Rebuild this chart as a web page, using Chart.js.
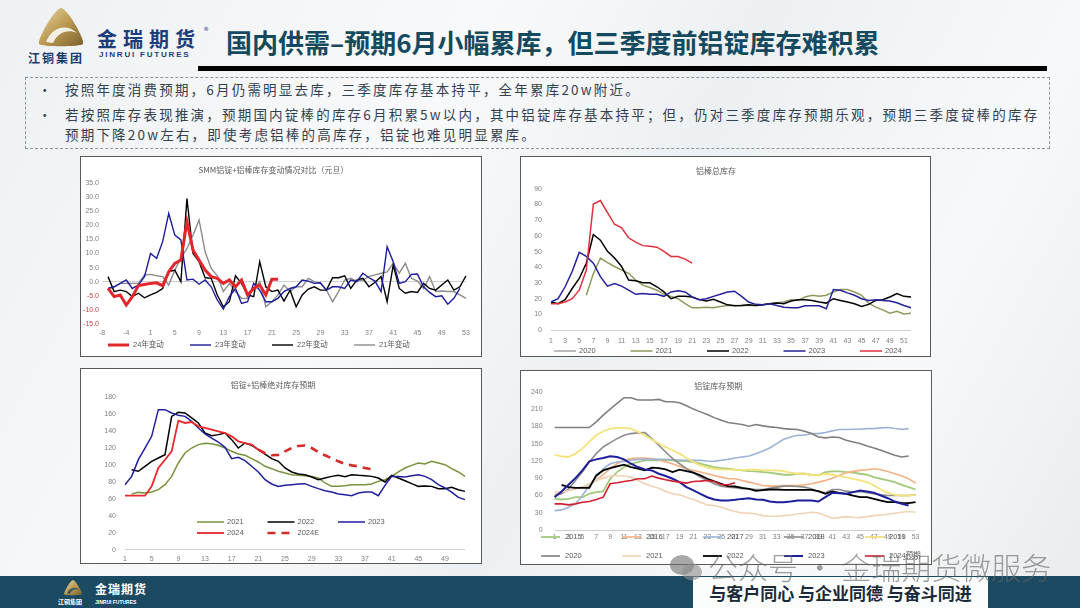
<!DOCTYPE html>
<html>
<head>
<meta charset="utf-8">
<script src="https://cdn.jsdelivr.net/npm/chart.js"></script>
<style>
  body { margin: 0; width: 1080px; height: 608px; overflow: hidden; position: relative;
         background: linear-gradient(118deg, #eef1f3 0%, #f8f9fa 35%, #edf0f2 55%, #f7f8f9 78%, #e9ecee 100%);
         font-family: 'Noto Sans CJK SC', sans-serif; }
  .abs { position: absolute; }
  .box { position: absolute; background: #fff; border: 1px solid #5a5a5a; box-sizing: border-box; }
  .box canvas { position: absolute; left: 0; top: 0; }
  .txt { font-size: 13.5px; letter-spacing: 2.2px; line-height: 20px; color: #34414e; white-space: nowrap; }
</style>
</head>
<body>

<!-- header -->
<svg class="abs" style="left:36px;top:7px" width="50" height="40" viewBox="0 0 50 40">
  <defs>
    <linearGradient id="gold" x1="0" y1="0" x2="1" y2="1">
      <stop offset="0" stop-color="#eadbab"/><stop offset="0.5" stop-color="#bb9a52"/><stop offset="1" stop-color="#7b602c"/>
    </linearGradient>
  </defs>
  <path d="M25 1 C31 1 49 32 47 37 C45 40 5 40 3 37 C1 32 19 1 25 1 Z" fill="url(#gold)"/>
  <path d="M10 35 C16 20 30 16 41 26 C32 22 22 25 17 36 Z" fill="#fff" opacity="0.85"/>
</svg>
<div class="abs" style="left:28px;top:49px;font-size:12px;font-weight:700;letter-spacing:2px;color:#1a3a6e">江铜集团</div>
<div class="abs" style="left:97px;top:27px;font-size:20px;line-height:24px;font-weight:700;letter-spacing:6px;color:#1b3d7a">金瑞期货</div>
<div class="abs" style="left:204px;top:26px;font-size:9px;line-height:10px;color:#1b3d7a">®</div>
<div class="abs" style="left:99px;top:50px;font-family:'Liberation Sans',sans-serif;font-size:8px;font-weight:700;letter-spacing:1.8px;color:#1b3d7a">JINRUI FUTURES</div>
<div class="abs" style="left:226px;top:24px;font-size:26px;line-height:36px;font-weight:700;color:#154a5e;white-space:nowrap">国内供需–预期6月小幅累库，但三季度前铝锭库存难积累</div>
<div class="abs" style="left:198px;top:66px;width:849px;height:4.5px;background:#000"></div>

<!-- text box -->
<div class="abs" style="left:25px;top:77px;width:1025px;height:72px;border:1px dashed #8c98a2;box-sizing:border-box"></div>
<div class="abs txt" style="left:38px;top:79px">•</div>
<div class="abs txt" style="left:65px;top:79px">按照年度消费预期，6月仍需明显去库，三季度库存基本持平，全年累库20w附近。</div>
<div class="abs txt" style="left:38px;top:104px">•</div>
<div class="abs txt" style="left:65px;top:104px">若按照库存表现推演，预期国内锭棒的库存6月积累5w以内，其中铝锭库存基本持平；但，仍对三季度库存预期乐观，预期三季度锭棒的库存<br>预期下降20w左右，即使考虑铝棒的高库存，铝锭也难见明显累库。</div>

<!-- charts -->
<div class="box" style="left:80px;top:156px;width:402px;height:201px"><canvas id="c1" width="400" height="199"></canvas></div>
<div class="box" style="left:520px;top:156px;width:411px;height:201px"><canvas id="c2" width="409" height="199"></canvas></div>
<div class="box" style="left:80px;top:368px;width:402px;height:196px"><canvas id="c3" width="400" height="194"></canvas></div>
<div class="box" style="left:520px;top:370px;width:412px;height:195px"><canvas id="c4" width="410" height="193"></canvas></div>

<!-- footer -->
<div class="abs" style="left:0;top:576px;width:1080px;height:32px;background:#1d4a63"></div>
<div class="abs" style="left:693px;top:577px;width:295px;height:31px;background:#fbfcfc"></div>
<div class="abs" style="left:693px;top:577px;width:295px;height:31px;line-height:31px;text-align:center;font-size:17px;font-weight:700;color:#1a2a38;white-space:nowrap">与客户同心 与企业同德 与奋斗同进</div>
<svg class="abs" style="left:63px;top:579px" width="20" height="17" viewBox="0 0 50 40">
  <path d="M25 1 C31 1 49 32 47 37 C45 40 5 40 3 37 C1 32 19 1 25 1 Z" fill="url(#gold)"/>
  <path d="M10 35 C16 20 30 16 41 26 C32 22 22 25 17 36 Z" fill="#1d4a63" opacity="0.8"/>
</svg>
<div class="abs" style="left:95px;top:582px;font-size:12px;line-height:14px;font-weight:700;letter-spacing:1px;color:#fff">金瑞期货</div>
<div class="abs" style="left:58px;top:598px;font-size:6px;line-height:8px;font-weight:700;color:#fff">江铜集团</div>
<div class="abs" style="left:95px;top:598px;font-family:'Liberation Sans',sans-serif;font-size:5px;line-height:8px;font-weight:700;color:#fff">JINRUI FUTURES</div>

<!-- watermark -->
<svg class="abs" style="left:668px;top:553px" width="36" height="30" viewBox="0 0 36 30">
  <ellipse cx="14" cy="12" rx="12" ry="10" fill="rgba(110,110,110,0.6)"/>
  <ellipse cx="24" cy="19" rx="10" ry="8.5" fill="rgba(140,140,140,0.6)"/>
</svg>
<div class="abs" style="left:708px;top:546px;font-size:30px;line-height:40px;font-weight:300;color:rgba(100,100,100,0.62);white-space:nowrap">公众号 · 金瑞期货微服务</div>

<script>
Chart.defaults.font.family = "'Liberation Sans', 'Noto Sans CJK SC', sans-serif";
Chart.defaults.font.size = 7;
Chart.defaults.color = '#7f7f7f';

// ---------- chart 1: SMM铝锭+铝棒库存变动 (weeks around 元旦) ----------
const weeks1 = [-8, -7, -6, -5, -4, -3, -2, -1, 1, 2, 3, 4, 5, 6, 7, 8, 9, 10, 11, 12, 13, 14, 15, 16, 17, 18, 19, 20,
  21, 22, 23, 24, 25, 26, 27, 28, 29, 30, 31, 32, 33, 34, 35, 36, 37, 38, 39, 40, 41, 42, 43, 44, 45, 46, 47, 48, 49,
  50, 51, 52, 53];
const chg24 = [null, -2.4, -5.3, -4.7, -8.3, -5.3, -1.4, -1.0, -0.6, -0.4, -1.4, 3.5, 6.5, 7.7, 21.3, 11.2, 7.7, 4.1,
  1.8, 1.2, -0.6, 0.6, -1.8, 0.6, -4.7, -2.4, -1.2, -4.7, 0.9, 0.9];
const chg23 = [null, -2.4, -1.8, -0.6, 0.6, -2.4, -1.2, 1.8, 10.0, 8.3, 14.2, 24.2, 16.5, 14.8, 0.6, 0.9, -0.9, 0.6,
  -1.8, -6.5, -9.7, -5.3, -2.4, -7.7, -7.1, -0.6, -3.0, -7.1, -7.1, -5.9, -3.5, -2.4, -1.8, 0.6, 0.2, -0.6, -0.4,
  -3.0, -1.8, -1.8, -2.4, 0.6, 0.0, 3.0, 1.4, 0.2, -3.5, 12.4, 7.1, -0.6, 0.0, 2.6, 2.7, -1.8, -3.8, -5.3, -5.0,
  -8.0, -5.9, -2.4];
const chg22 = [null, 1.8, -3.5, -3.0, -3.5, -5.3, -4.1, -5.7, -4.7, -3.8, -2.4, 3.5, 4.1, 0.0, 29.5, 10.0, 7.1, 1.4,
  1.2, -4.7, -8.9, -7.1, 2.1, -0.6, -4.7, -5.3, 7.1, -1.8, -3.5, -3.0, -6.9, -3.0, -8.9, -4.7, -2.6, -1.8, -3.0,
  -3.0, 1.4, 1.4, 2.1, -2.4, 0.6, 1.2, -1.8, -0.2, 1.8, -7.1, 5.9, -2.4, -4.1, -3.5, -3.8, -0.6, -2.4, -3.0, -1.2,
  0.6, -3.0, -1.8, 2.1];
const chg21 = [null, -2.4, -1.8, -0.6, -0.6, -0.6, -0.6, 2.4, 2.6, 2.1, 1.8, -1.2, 4.1, 8.3, 11.8, 16.5, 21.9, 10.6,
  4.7, 2.1, -3.5, -0.6, -3.5, -5.9, -5.9, -2.4, 0.0, -8.9, -7.1, -4.7, -1.2, -3.5, -1.8, -1.8, 1.2, 0.0, -0.6, -3.0,
  -7.1, -3.5, 0.6, 1.2, 0.2, 0.6, 1.8, 2.4, 3.0, 3.5, 6.5, 3.0, 6.5, 1.2, 0.2, -2.4, 1.8, -3.5, -3.3, -3.5, -3.5,
  -4.7, -5.9];

// ---------- chart 2: 铝棒总库存 ----------
const weeks2 = Array.from({ length: 52 }, (_, i) => i + 1);
const bar20 = [];
const bar21 = [null, null, null, null, null, 22.2, 36, 45.9, 43, 40.5, 38.3, 36.2, 31.9, 28.6, 27.1, 25.4, 22.8, 21.5,
  20, 16.8, 14.2, 14.2, 14.6, 14.2, 15.1, 15.7, 15.7, 15.7, 15.7, 15.7, 16.1, 16.8, 17.4, 17.9, 19.4, 18.9, 21.1,
  22.2, 21.5, 22.2, 24.3, 25.8, 25.8, 24.3, 22.2, 17.2, 14.6, 12.9, 10.8, 12, 10.3, 10.8];
const bar22 = [17.9, 16.8, 19.4, 26.5, 32.9, 42.6, 60.9, 57.3, 50.2, 45.9, 40.5, 31.9, 31.4, 30.1, 30.1, 27.6, 24.3,
  20, 21.5, 21.5, 21.1, 19.4, 18.5, 19.6, 17.9, 16.1, 15.5, 15.7, 16.1, 15.7, 16.1, 16.8, 17.2, 16.8, 18.5, 19.4,
  19.4, 18.9, 17.9, 17.2, 20, 18.9, 17.9, 16.8, 15.1, 16.4, 18.9, 19.4, 21.1, 23.3, 21.5, 21.1];
const bar23 = [17.9, 20, 27.6, 37.3, 49.5, 46.9, 42.6, 34, 28, 29.7, 28, 25.4, 22.8, 23.3, 22.8, 22.8, 21.5, 24.3, 25,
  24.3, 21.1, 19.4, 20, 21.5, 22.8, 24.3, 24.8, 21.5, 17.9, 16.4, 16.1, 16.8, 15.7, 14.6, 14.2, 14.2, 15.5, 15.5,
  15.5, 13.6, 25.8, 25.4, 23.7, 22.2, 20, 18.9, 19.4, 18.9, 18.5, 17.4, 15.7, 14.2];
const bar24 = [16.8, 16.8, 17.9, 20, 25.4, 38.3, 80.3, 82.5, 74.9, 67.4, 65.2, 58.8, 56, 53.8, 53.4, 52.8, 50.2, 46.9,
  46.9, 45.2, 42.6];

// ---------- chart 3: 铝锭+铝棒绝对库存预期 ----------
const weeks3 = Array.from({ length: 52 }, (_, i) => i + 1);
const abs21 = [null, 65.8, 67.7, 67, 68.1, 70.9, 76.8, 86.6, 102.4, 114.2, 120.1, 124.1, 125.6, 125.2, 123.3, 120.1,
  116.2, 113, 111.5, 107.5, 103.6, 98.5, 95.7, 92.6, 90.6, 88.6, 87.8, 87.4, 86.6, 84.7, 78.8, 74.8, 74.8, 75.6, 76.8,
  76.8, 76.8, 77.6, 80.7, 82.7, 86.6, 91.8, 96.5, 99.6, 102.4, 101.2, 104.4, 102.4, 100.4, 95.7, 91.8, 86.6];
const abs22 = [null, 94.5, 92.6, 98.5, 104.4, 108.3, 112.2, 157.5, 162.3, 161.5, 155.6, 149.7, 137.8, 134.7, 135.9,
  137.8, 130, 120.1, 126, 123.3, 118.2, 113, 107.5, 104.4, 96.5, 91.8, 89.4, 88.6, 85.9, 82.7, 84.7, 86.6, 87.8, 86.3,
  88.6, 87.8, 87.4, 86.6, 84.7, 80, 87.8, 84.7, 81.5, 78, 74.8, 75.2, 74.8, 72.1, 72.1, 73.6, 70.9, 68.9];
const abs23 = [76.8, 86.6, 106.3, 120.1, 133.9, 165.4, 165.4, 161.5, 158.7, 157.5, 151.6, 143.8, 136.7, 131.9, 127.2,
  120.9, 107.5, 109.1, 105.2, 98.5, 91.8, 82.7, 77.6, 74.8, 76, 76.8, 77.6, 78, 74.8, 72.1, 69.7, 68.1, 65.8, 65,
  63.8, 67, 68.1, 68.1, 63.8, 76, 86.6, 86.6, 85.9, 87.4, 88.6, 86.6, 82.7, 76.8, 72.9, 68.1, 61.8, 59.1];
const abs24 = [63.8, 63.8, 63.8, 63.8, 74.8, 96.5, 106.3, 116.2, 152.4, 149.7, 150.8, 145.7, 143.8, 141.8, 139.8,
  137.8, 133.9, 128, 126, 124.1, 118.2];
const abs24e = [null, null, null, null, null, null, null, null, null, null, null, null, null, null, null, null, null,
  null, null, null, 118.2, 114, 111.5, 112, 116.2, 120.1, 122.5, 123, 120.1, 115.4, 111.5, 108, 104.4, 101.2, 99.6,
  98.5, 96.5, 95];

// ---------- chart 4: 铝锭库存预期 ----------
const weeks4 = Array.from({ length: 53 }, (_, i) => i + 1);
const ing15 = [54, 52.9, 54, 56.9, 56.9, 62.8, 65.7, 66.8, 88.9, 100.5, 109.2, 115, 118, 120.9, 120.9, 120.9, 120.9,
  120.9, 119.7, 119.7, 118, 115, 112.1, 109.2, 107.5, 106.3, 104.6, 103.4, 102.3, 101.7, 100.5, 99.4, 97.6, 95.9,
  95.9, 97.6, 97.6, 95.9, 94.7, 100.5, 101.7, 101.7, 100.5, 99.4, 97.6, 95.9, 91.8, 88.9, 86, 83.1, 78.4, 74.4, 70.3];
const ing16 = [61, 64.5, 68.6, 71.5, 74.4, 78.4, 86, 95.9, 106.3, 115, 120.9, 123.8, 124.9, 124.9, 123.8, 122, 118,
  115, 110.4, 106.3, 103.4, 100.5, 97.6, 94.7, 91.8, 88.9, 88.9, 86, 83.1, 80.2, 77.3, 76.1, 76.1, 77.3, 77.3, 77.3,
  78.4, 80.2, 83.1, 86, 90, 94.7, 99.4, 101.7, 103.4, 104.6, 106.3, 104.6, 101.7, 97.6, 93.6, 88.9, 81.3];
const ing17 = [33.7, 34.9, 39.5, 45.3, 59.8, 77.3, 91.8, 106.3, 115, 118, 119.1, 120.9, 122.6, 122.6, 122.6, 122.6,
  122.6, 122, 121.5, 121, 120.9, 120.9, 119.7, 119.1, 120.9, 122.6, 124.9, 126.7, 128.4, 132.5, 137.1, 142.4, 149.9,
  157.5, 161.5, 164.4, 164.4, 167.3, 167.3, 169.1, 172, 174.3, 174.3, 174.9, 174.9, 176, 176, 177.2, 177.8, 176,
  174.9, 176];
const ing18 = [59.8, 62.8, 71.5, 86, 100.5, 118, 132.5, 144.1, 151.7, 158.6, 164.4, 167.3, 168.5, 169.1, 158.6, 147,
  135.4, 123.8, 115, 106.3, 99.4, 91.8, 86, 80.2, 76.1, 74.4, 73.2, 71.5, 71.5, 70.3, 70.3, 72.6, 74.4, 76.1, 76.1,
  75.5, 74.4, 71.5, 66.8, 64.5, 70.3, 70.3, 67.4, 65.7, 66.8, 64.5, 62.8, 61, 59.8, 59.8, 59.8, 59.8, 61];
const ing19 = [130.7, 127.8, 126.7, 132.5, 141.2, 152.8, 164.4, 171.4, 176, 177.2, 177.2, 176, 170.2, 164.4, 156.9,
  150, 144.1, 138.3, 132.5, 124.9, 118, 112.1, 108.1, 106.3, 105.2, 104.6, 104.6, 103.4, 104.6, 104.6, 103.4, 103.4,
  103.4, 102.3, 99.4, 97.6, 97.6, 95.9, 94.7, 97.6, 95.9, 93.6, 91.8, 88.9, 86, 83.1, 77.3, 70.3, 64.5, 61, 59.8,
  59.8, 61];
const ing20 = [177.8, 177.8, 177.8, 177.8, 177.8, 177.8, 187.7, 199.3, 209.8, 219.6, 229.5, 229.5, 225.5, 225.5, 225.5,
  226.6, 222.5, 222.5, 220.8, 215.6, 209.8, 205, 200.5, 195, 190.6, 186.5, 184.8, 183, 180, 183, 180.7, 179, 177.8,
  176, 175, 174.3, 171.4, 167.3, 161.5, 159.8, 161.5, 160.4, 155.7, 152.8, 150, 145.8, 142.4, 138.3, 134.2, 129.6,
  126.7, 128.4];
const ing21 = [65.7, 65.7, 68.6, 71.5, 74.4, 80.2, 86, 90, 93.6, 94.7, 93.6, 91.8, 86, 80.2, 76.1, 72.6, 66.8, 62.8,
  61, 56.9, 52.9, 48.2, 43.6, 42.4, 39.5, 35.4, 32, 29.6, 29.6, 27.9, 25, 23.8, 23.8, 25, 26.1, 27.9, 29.1, 30.8,
  29.6, 25, 20.3, 21.5, 23.2, 22.1, 21.5, 23.2, 25, 26.1, 27.3, 29.1, 30.8, 32, 30.8];
const ing22 = [null, 78.4, 74.4, 73.2, 73.2, 73.2, 94.7, 103.4, 107.5, 110.4, 113.3, 109.2, 106.3, 103.4, 108.1, 107.5,
  105.2, 100.5, 104.6, 102.3, 99.4, 94.7, 88.9, 84.3, 80.2, 76.1, 75.5, 73.2, 71.5, 68, 69.1, 70.3, 70.3, 69.7, 69.7,
  69.7, 69.7, 69.7, 67.4, 62.8, 66.8, 64.5, 62.8, 59.8, 56.9, 56.9, 54, 51.1, 48.2, 48.2, 47.1, 46.5, 48.2];
const ing23 = [56.9, 66.8, 78.4, 90, 103.4, 119.1, 122.6, 124.9, 127.8, 126.7, 122.6, 115, 109.2, 105.2, 103.4, 97.6,
  93.6, 88.9, 83.1, 74.4, 68.6, 62.8, 56.9, 52.9, 51.1, 51.1, 52.3, 54, 55.2, 52.9, 52.3, 49.4, 48.2, 48.2, 49.4,
  51.1, 51.1, 51.1, 49.4, 56.9, 64.5, 63.9, 62.8, 65.7, 68.6, 66.8, 64.5, 59.8, 55.2, 49.4, 45.3, 42.4];
const ing24 = [45.3, 45.3, 43.6, 45.3, 48.2, 49.4, 52.9, 56.9, 80.2, 81.9, 84.3, 86, 88.9, 88.9, 93.6, 90, 87.2, 84.8,
  83.1, 81.3, 84.3, 84.8, 86, 84.3, 78.4, 78.4, 81.9];

// legend laid out on a fixed grid, like the Excel charts
const gridLegend = {
  id: 'gridLegend',
  afterDraw(chart, args, o) {
    const ctx = chart.ctx;
    ctx.save();
    ctx.font = "7.5px 'Liberation Sans', 'Noto Sans CJK SC', sans-serif";
    ctx.textBaseline = 'middle';
    chart.data.datasets.forEach((ds, i) => {
      const x = o.x + (i % o.cols) * o.colW;
      const y = o.y + Math.floor(i / o.cols) * o.rowH;
      ctx.strokeStyle = ds.borderColor;
      ctx.lineWidth = ds.borderWidth;
      ctx.setLineDash(ds.borderDash || []);
      ctx.beginPath();
      ctx.moveTo(x, y);
      ctx.lineTo(x + o.len, y);
      ctx.stroke();
      ctx.setLineDash([]);
      ctx.fillStyle = '#595959';
      ctx.fillText(ds.label, x + o.len + o.gap, y);
    });
    ctx.restore();
  }
};

let line = (label, data, color, width, extra) => Object.assign({
  label, data, borderColor: color, backgroundColor: color, borderWidth: width,
  pointRadius: 0, tension: 0, fill: false
}, extra || {});

let makeChart = (id, labels, sets, c) => {
  if (c.lastOnTop) sets.forEach((s, i) => { s.order = -i; });
  return new Chart(document.getElementById(id), {
    type: 'line',
    data: { labels: labels, datasets: sets },
    plugins: [gridLegend],
    options: {
      responsive: false,
      animation: false,
      layout: { padding: { left: 0, top: 0, right: c.padRight, bottom: c.padBottom } },
      plugins: {
        legend: { display: false },
        tooltip: { enabled: false },
        title: {
          display: true, text: c.title, color: '#595959',
          font: { size: 8, weight: 'normal', family: "'Noto Sans CJK SC', sans-serif" },
          padding: { top: c.titleTop, bottom: c.titleBottom }
        },
        gridLegend: c.legend
      },
      scales: {
        x: {
          grid: { display: false, drawTicks: false },
          border: { display: false },
          ticks: {
            autoSkip: false, maxRotation: 0, padding: c.xPad, color: '#7f7f7f',
            callback: function (v, i) { return i % c.xEvery === 0 ? this.getLabelForValue(v) : ''; }
          }
        },
        y: {
          min: c.yMin, max: c.yMax,
          afterFit: (s) => { s.width = c.yWidth; },
          grid: { drawTicks: false, color: (t) => t.tick.value === 0 ? '#cfcfcf' : 'rgba(0,0,0,0)' },
          border: { display: false },
          ticks: { stepSize: c.yStep, padding: c.yPad, color: c.tickColor || '#7f7f7f', callback: c.fmt || ((v) => v) }
        }
      }
    }
  });
};

makeChart('c1', weeks1, [
  line('24年变动', chg24, '#e3262b', 3),
  line('23年变动', chg23, '#1c1c9c', 1.4),
  line('22年变动', chg22, '#000000', 1.4),
  line('21年变动', chg21, '#8c8c8c', 1.4)
], {
  title: 'SMM铝锭+铝棒库存变动情况对比（元旦）', titleTop: 8, titleBottom: 8.4,
  yMin: -15, yMax: 35, yStep: 5, yWidth: 21, yPad: 3, padRight: 15, padBottom: 14, xPad: 4.8, xEvery: 4,
  fmt: (v) => v.toFixed(1),
  tickColor: (t) => t.tick.value < 0 ? '#d9363e' : '#7f7f7f',
  legend: { x: 27, y: 188, cols: 4, colW: 82, rowH: 0, len: 21, gap: 4 }
});

makeChart('c2', weeks2, [
  line('2020', bar20, '#a6a6a6', 1.5),
  line('2021', bar21, '#8e9a5c', 1.5),
  line('2022', bar22, '#000000', 1.5),
  line('2023', bar23, '#22229a', 1.5),
  line('2024', bar24, '#e0303a', 1.5)
], {
  title: '铝棒总库存', titleTop: 9.4, titleBottom: 12.8, lastOnTop: true,
  yMin: 0, yMax: 90, yStep: 10, yWidth: 30, yPad: 9, padRight: 19, padBottom: 4.3, xPad: 6.6, xEvery: 2,
  legend: { x: 33, y: 194, cols: 5, colW: 76.5, rowH: 0, len: 22, gap: 3 }
});

makeChart('c3', weeks3, [
  line('2021', abs21, '#77933c', 1.5),
  line('2022', abs22, '#000000', 1.5),
  line('2023', abs23, '#1f1fa0', 1.5),
  line('2024', abs24, '#e8282c', 1.8),
  line('2024E', abs24e, '#d42a2a', 2.6, { borderDash: [8, 6] })
], {
  title: '铝锭+铝棒绝对库存预期', titleTop: 10.9, titleBottom: 7.8, lastOnTop: true,
  yMin: 0, yMax: 180, yStep: 20, yWidth: 44, yPad: 9, padRight: 16, padBottom: -4.7, xPad: 4.8, xEvery: 4,
  legend: { x: 116, y: 153, cols: 3, colW: 70.5, rowH: 11, len: 27, gap: 3 }
});

makeChart('c4', weeks4, [
  line('2015', ing15, '#a3c97a', 1.8),
  line('2016', ing16, '#f4b183', 1.6),
  line('2017', ing17, '#9db3d6', 1.6),
  line('2018', ing18, '#8c8c8c', 1.6),
  line('2019', ing19, '#f5e37a', 1.8),
  line('2020', ing20, '#7f7f7f', 1.6),
  line('2021', ing21, '#f0d2b4', 1.6),
  line('2022', ing22, '#000000', 1.8),
  line('2023', ing23, '#1f1f9e', 2),
  line('2024预期', ing24, '#d02030', 1.6)
], {
  title: '铝锭库存预期', titleTop: 9.8, titleBottom: 1.3, lastOnTop: true,
  yMin: 0, yMax: 240, yStep: 30, yWidth: 33.6, yPad: 12, padRight: 15.4, padBottom: 20, xPad: 2.8, xEvery: 2,
  legend: { x: 20, y: 166, cols: 5, colW: 81, rowH: 19, len: 19, gap: 5 }
});
</script>
</body>
</html>
